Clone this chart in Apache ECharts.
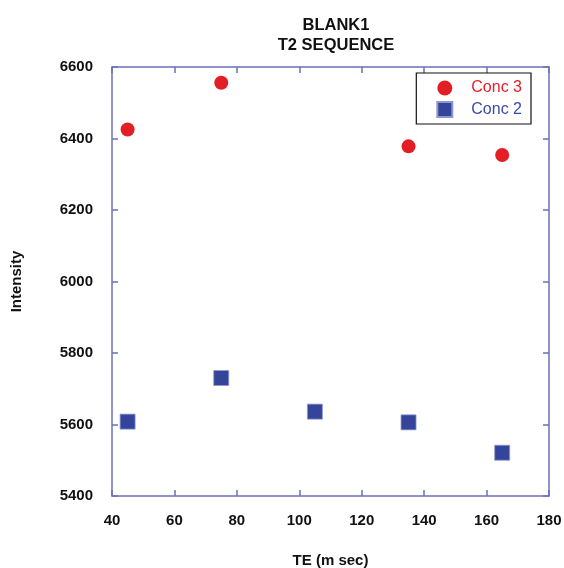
<!DOCTYPE html>
<html><head><meta charset="utf-8">
<script src="https://cdn.jsdelivr.net/npm/echarts@6/dist/echarts.min.js"></script>
<style>html,body{margin:0;padding:0;background:#fff}#c{width:564px;height:568px}</style>
</head><body><div id="c"></div>
<script>
const conc3TE = [45, 75, 135, 165];
const conc3Val = [6425, 6556, 6378, 6354];
const conc2TE = [45, 75, 105, 135, 165];
const conc2Val = [5608, 5730, 5636, 5606, 5521];
const xTicks = [40, 60, 80, 100, 120, 140, 160, 180];
const yTicks = [5400, 5600, 5800, 6000, 6200, 6400, 6600];

const axisColor = '#6a72b8';
const FF = 'Liberation Sans, Arial, sans-serif';
const chart = echarts.init(document.getElementById('c'));
const lab = {color:'#111', fontWeight:'bold', fontSize:15, fontFamily:FF};
const fmt = v => String(v);
chart.setOption({
  animation:false,
  backgroundColor:'#fff',
  title:{text:'BLANK1\nT2 SEQUENCE', left:331, top:10, textAlign:'center',
    textStyle:{fontSize:16.5, fontWeight:'bold', color:'#111', lineHeight:20, fontFamily:FF}},
  grid:{left:112, right:15, top:67, bottom:72, outerBoundsMode:'none', containLabel:false},
  legend:{right:33, top:73, orient:'vertical', borderColor:'#111', borderWidth:1.2,
    padding:[7,9,6,20], itemGap:5, itemWidth:15, itemHeight:15,
    textStyle:{fontSize:16, fontFamily:FF, padding:[0,0,0,14]},
    data:[{name:'Conc 3', icon:'circle', textStyle:{color:'#e8202a'}}, {name:'Conc 2', icon:'rect', textStyle:{color:'#3b4aa6'}}]},
  xAxis:[{type:'value', min:xTicks[0], max:xTicks[xTicks.length-1], interval:20,
    name:'TE (m sec)', nameLocation:'middle', nameGap:57,
    nameTextStyle:lab,
    axisLine:{lineStyle:{color:axisColor, width:1.5}}, axisTick:{inside:true, length:6, lineStyle:{color:axisColor, width:1.5}},
    axisLabel:Object.assign({margin:17, formatter:fmt}, lab), splitLine:{show:false}},
   {type:'value', position:'top', min:40, max:180, interval:20,
    axisLine:{lineStyle:{color:axisColor, width:1.5}}, axisTick:{inside:true, length:6, lineStyle:{color:axisColor, width:1.5}},
    axisLabel:{show:false}, splitLine:{show:false}}],
  yAxis:[{type:'value', min:yTicks[0], max:yTicks[yTicks.length-1], interval:200,
    name:'Intensity', nameLocation:'middle', nameGap:88, nameRotate:90,
    nameTextStyle:lab,
    axisLine:{show:true, lineStyle:{color:axisColor, width:1.5}}, axisTick:{show:true, inside:true, length:6, lineStyle:{color:axisColor, width:1.5}},
    axisLabel:Object.assign({margin:19, formatter:fmt}, lab), splitLine:{show:false}},
   {type:'value', position:'right', min:5400, max:6600, interval:200,
    axisLine:{show:true, lineStyle:{color:axisColor, width:1.5}}, axisTick:{show:true, inside:true, length:6, lineStyle:{color:axisColor, width:1.5}},
    axisLabel:{show:false}, splitLine:{show:false}}],
  series:[
    {name:'Conc 3', type:'scatter', symbol:'circle', symbolSize:14,
     itemStyle:{color:'#e31e24', opacity:1}, data:conc3TE.map((x,i)=>[x, conc3Val[i]])},
    {name:'Conc 2', type:'scatter', symbol:'rect', symbolSize:15,
     itemStyle:{color:'#33449a', opacity:1, borderColor:'#8f98cc', borderWidth:0.8}, data:conc2TE.map((x,i)=>[x, conc2Val[i]])}
  ]
});
</script></body></html>
